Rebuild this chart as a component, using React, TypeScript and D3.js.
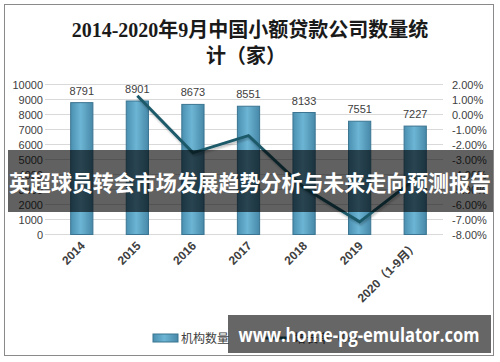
import React from 'react';
import * as d3 from 'd3';

const years = ['2014', '2015', '2016', '2017', '2018', '2019', '2020（1-9月）'];
const counts = [8791, 8901, 8673, 8551, 8133, 7551, 7227];
const growth = [null, 1.25, -2.56, -1.41, -4.89, -7.16, -4.29];
const leftTicks = [0, 1000, 2000, 3000, 4000, 5000, 6000, 7000, 8000, 9000, 10000];
const rightTicks = [2, 1, 0, -1, -2, -3, -4, -5, -6, -7, -8];

const W = 500;
const H = 362;
const top = 84.5;
const bottom = 234.5;
const gridLeft = 45;
const gridRight = 443;

const App = () => {
  const x = d3.scaleBand<string>().domain(years).range([54, 443]).paddingInner(0.6).paddingOuter(0.3);
  const yL = d3.scaleLinear().domain([0, 10000]).range([bottom, top]);
  const yR = d3.scaleLinear().domain([-8, 2]).range([bottom, top]);
  const cx = (d: string) => (x(d) as number) + x.bandwidth() / 2;

  const linePts = years
    .map((d, i) => ({ d, v: growth[i] }))
    .filter(p => p.v !== null) as { d: string; v: number }[];
  const line = d3.line<{ d: string; v: number }>()
    .x(p => cx(p.d))
    .y(p => yR(p.v));

  const axisFont = '"Liberation Sans", Arial, sans-serif';

  return (
    <svg width={W} height={H} style={{ position: 'absolute', left: 0, top: 0, background: '#fff' }}>
      <defs>
        <linearGradient id="barGrad" x1="0" x2="1" y1="0" y2="0">
          <stop offset="0" stopColor="#4a8fb0" />
          <stop offset="0.45" stopColor="#6db5d4" />
          <stop offset="1" stopColor="#4788a8" />
        </linearGradient>
        <filter id="shadow" x="-10%" y="-10%" width="120%" height="130%">
          <feDropShadow dx="1" dy="2" stdDeviation="1.2" floodColor="#000" floodOpacity="0.25" />
        </filter>
      </defs>
      <rect x={4.5} y={4.5} width={489} height={351} fill="#fff" stroke="#8a8a8a" strokeWidth={1} />

      <g fontFamily={'"Liberation Serif", "Noto Sans CJK SC", serif'} fontSize={20} fontWeight="bold" fill="#1a1a1a" textAnchor="middle">
        <text x={250} y={37}>2014-2020年9月中国小额贷款公司数量统</text>
        <text x={246} y={63}>计（家）</text>
      </g>

      {leftTicks.map(t => (
        <line key={t} x1={gridLeft} x2={gridRight} y1={yL(t)} y2={yL(t)} stroke="#d9d9d9" strokeWidth={1} />
      ))}

      <g fontFamily={axisFont} fontSize={11} fill="#404040">
        {leftTicks.map(t => (
          <text key={t} x={43} y={yL(t) + 4} textAnchor="end">{t}</text>
        ))}
        {rightTicks.map(t => (
          <text key={t} x={452} y={yR(t) + 4} textAnchor="start">{t.toFixed(2) + '%'}</text>
        ))}
      </g>

      {years.map((d, i) => (
        <rect key={d} x={x(d)} y={yL(counts[i])} width={x.bandwidth()} height={bottom - yL(counts[i])}
          fill="url(#barGrad)" stroke="#3b7591" strokeWidth={1} />
      ))}

      <g fontFamily={axisFont} fontSize={11} fill="#404040" textAnchor="middle">
        {years.map((d, i) => (
          <text key={d} x={cx(d)} y={yL(counts[i]) - 8}>{counts[i]}</text>
        ))}
      </g>

      <path d={line(linePts) || ''} fill="none" stroke="#1d5a6b" strokeWidth={3} filter="url(#shadow)" />

      <g fontFamily={'"Liberation Sans", "Noto Sans CJK SC", sans-serif'} fontSize={12} fontWeight="bold" fill="#404040">
        {years.map(d => (
          <text key={d} textAnchor="end" transform={`translate(${cx(d) + 4},${bottom + 12}) rotate(-45)`}>{d}</text>
        ))}
      </g>

      <g>
        <rect x={153} y={334} width={25} height={8} fill="url(#barGrad)" stroke="#3b7591" />
        <text x={181} y={343} fontFamily={'"Noto Sans CJK SC", sans-serif'} fontSize={12} fill="#404040">机构数量</text>
        <line x1={262} x2={290} y1={338} y2={338} stroke="#1d5a6b" strokeWidth={3} />
        <text x={294} y={343} fontFamily={'"Noto Sans CJK SC", sans-serif'} fontSize={12} fill="#404040">增长率（%）</text>
      </g>

      <rect x={8} y={150} width={485} height={62} fill="rgba(0,0,0,0.62)" />
      <text x={250} y={191} textAnchor="middle" fontFamily={'"Noto Sans CJK SC", sans-serif'} fontSize={22}
        fontWeight="bold" fill="#fff" textLength={482} lengthAdjust="spacingAndGlyphs">英超球员转会市场发展趋势分析与未来走向预测报告</text>

      <rect x={228} y={315} width={263} height={38} fill="rgba(0,0,0,0.6)" />
      <text x={359} y={342} textAnchor="middle" fontFamily={'"Open Sans", sans-serif'} fontSize={20}
        fontWeight="bold" fill="#fff" textLength={241} lengthAdjust="spacingAndGlyphs">www.home-pg-emulator.com</text>
    </svg>
  );
};

export default App;
